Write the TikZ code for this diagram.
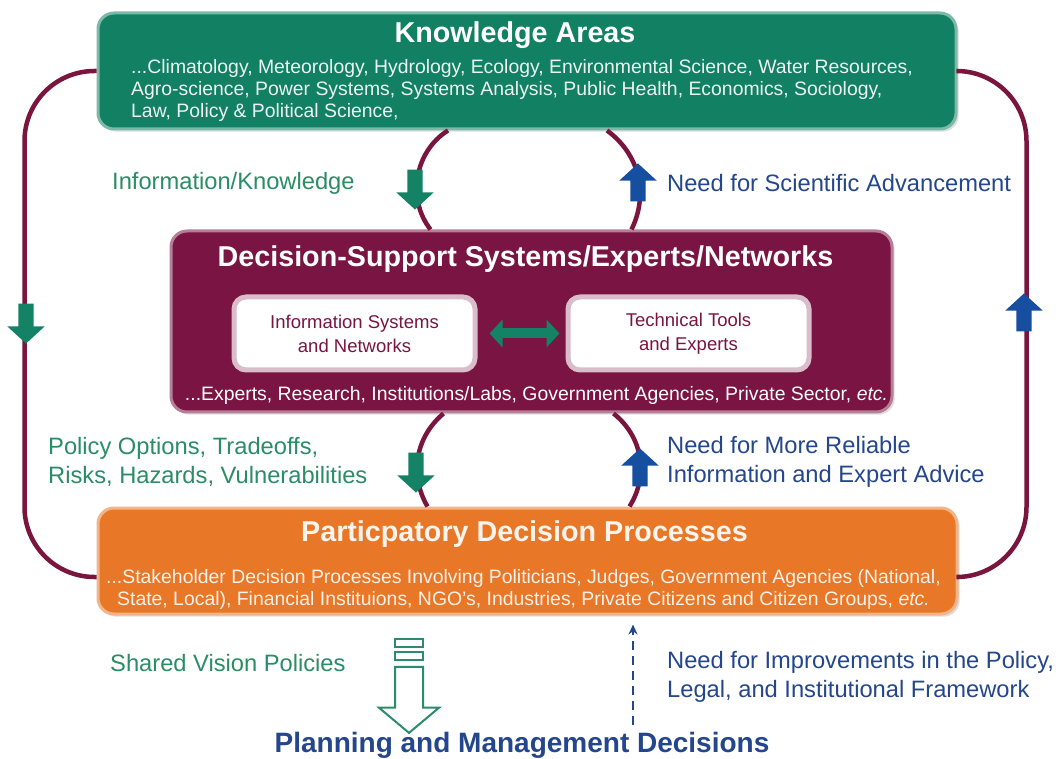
\documentclass[tikz,border=0pt]{standalone}
\usepackage{fontspec}
\setmainfont{Liberation Sans}
\usepackage{xcolor}
\usetikzlibrary{shapes.arrows, arrows.meta, positioning, calc, shadows}
\definecolor{kagreen}{RGB}{18, 128, 98}
\definecolor{dssred}{RGB}{122, 20, 66}
\definecolor{pdporange}{RGB}{232, 120, 40}
\definecolor{loopred}{RGB}{122, 22, 62}
\definecolor{txtgreen}{RGB}{42, 140, 104}
\definecolor{txtblue}{RGB}{36, 70, 140}
\definecolor{markgreen}{RGB}{20, 130, 100}
\definecolor{markblue}{RGB}{22, 78, 160}
\tikzstyle{areabox} = [rectangle, rounded corners=16pt, minimum width=858pt, minimum height=116pt, draw=kagreen!55, line width=3pt, fill=kagreen, drop shadow={opacity=0.25}]
\tikzstyle{dssbox} = [rectangle, rounded corners=16pt, minimum width=721pt, minimum height=181pt, draw=dssred!55, line width=3pt, fill=dssred, drop shadow={opacity=0.25}]
\tikzstyle{pdpbox} = [rectangle, rounded corners=16pt, minimum width=859pt, minimum height=106pt, draw=pdporange!55, line width=3pt, fill=pdporange, drop shadow={opacity=0.25}]
\tikzstyle{innerbox} = [rectangle, rounded corners=12pt, minimum width=241pt, minimum height=73pt, draw=dssred!28, line width=5pt, fill=white, text=dssred, align=center, font=\fontsize{18.5}{24}\selectfont]
\tikzstyle{boxtitle} = [inner sep=0pt, text=white, font=\fontsize{28.7}{32}\selectfont\bfseries]
\tikzstyle{boxbody} = [inner sep=0pt, text=white!92!kagreen, align=left, font=\fontsize{19.4}{22}\selectfont]
\tikzstyle{greenlabel} = [inner sep=0pt, anchor=west, align=left, text=txtgreen, font=\fontsize{23.7}{29}\selectfont]
\tikzstyle{bluelabel} = [inner sep=0pt, anchor=west, align=left, text=txtblue, font=\fontsize{23.7}{29}\selectfont]
\tikzstyle{downmark} = [single arrow, draw=none, fill=markgreen, inner sep=7.5pt, single arrow head extend=11pt, single arrow tip angle=95, minimum height=40pt, shape border rotate=270]
\tikzstyle{upmark} = [single arrow, draw=none, fill=markblue, inner sep=7.5pt, single arrow head extend=11pt, single arrow tip angle=95, minimum height=38pt, shape border rotate=90]
\tikzstyle{svbar} = [rectangle, draw=txtgreen, line width=2pt, fill=white, minimum width=28pt, minimum height=8pt, inner sep=0pt]
\tikzstyle{openarrow} = [single arrow, draw=txtgreen, line width=2pt, fill=white, inner sep=13pt, single arrow head extend=16pt, single arrow tip angle=100, minimum height=66pt, shape border rotate=270]
\tikzstyle{loopline} = [draw=loopred, line width=4.5pt]
\tikzstyle{linkarrow} = [draw=markgreen, line width=10pt, {Triangle[width=27pt,length=13pt]}-{Triangle[width=27pt,length=13pt]}, shorten <=12pt, shorten >=6pt]
\tikzstyle{needline} = [draw=txtblue, line width=2pt, dash pattern=on 9pt off 6pt, -{Stealth[width=9pt,length=10pt]}]

\begin{document}
\begin{tikzpicture}[x=1pt, y=-1pt, node distance=3pt]
  \useasboundingbox[fill=white] (0,0) rectangle (1061,759);

  % the three layers
  \node[areabox] (ka) at (527,71) {};
  \node[boxtitle] (katitle) at ([xshift=-12pt,yshift=-24pt]ka.north) {Knowledge Areas};
  \node[boxbody, anchor=west] (kabody) at (131,90) {...Climatology, Meteorology, Hydrology, Ecology, Environmental Science, Water Resources,\\Agro-science, Power Systems, Systems Analysis, Public Health, Economics, Sociology,\\Law, Policy \& Political Science,};

  \node[dssbox] (dss) at (531.5,321.5) {};
  \node[boxtitle] (dsstitle) at ([xshift=-6pt,yshift=-30pt]dss.north) {Decision-Support Systems/Experts/Networks};
  \node[innerbox] (isn) at ([xshift=-177pt,yshift=-12pt]dss.center) {Information Systems\\and Networks};
  \node[innerbox] (tte) at ([xshift=157pt,yshift=-12pt]dss.center) {Technical Tools\\and Experts};
  \node[boxbody, text=white] (dssbody) at ([xshift=5pt,yshift=18pt]dss.south) {...Experts, Research, Institutions/Labs, Government Agencies, Private Sector, \textit{etc.}};

  \node[pdpbox] (pdp) at (527.5,561) {};
  \node[boxtitle, text=white!92!pdporange] (pdptitle) at ([xshift=-3pt,yshift=-28pt]pdp.north) {Particpatory Decision Processes};
  \node[boxbody, align=center, text=white!90!pdporange] (pdpbody) at ([xshift=-4pt,yshift=26pt]pdp.south) {...Stakeholder Decision Processes Involving Politicians, Judges, Government Agencies (National,\\State, Local), Financial Instituions, NGO's, Industries, Private Citizens and Citizen Groups, \textit{etc.}};

  % loops
  \draw[loopline, rounded corners=70pt] (ka.west) -| ([xshift=-72pt,yshift=-16pt]pdp.west) -- ([yshift=-16pt]pdp.west);
  \draw[loopline, rounded corners=70pt] (ka.east) -| ([xshift=68pt,yshift=-16pt]pdp.east) -- ([yshift=-16pt]pdp.east);
  \draw[loopline] ([xshift=-79pt]ka.south) to[bend right=48] ([xshift=-101pt]dss.north);
  \draw[loopline] ([xshift=80pt]ka.south) to[bend left=40] ([xshift=100pt]dss.north);
  \draw[loopline] ([xshift=-88pt]dss.south) to[bend right=40] ([xshift=-100pt]pdp.north);
  \draw[loopline] ([xshift=82pt]dss.south) to[bend left=42] ([xshift=102pt]pdp.north);
  \draw[linkarrow] (isn) -- (tte);

  \node[downmark] (gm1) at (415,186) {};
  \node[upmark] (bm1) at (638,186) {};
  \node[downmark] (gm2) at (416,469) {};
  \node[upmark] (bm2) at (640,471) {};
  \node[downmark] (gm3) at (26,320) {};
  \node[upmark] (bm3) at (1024,316) {};

  % labels
  \node[greenlabel] (infok) at (112,183) {Information/Knowledge};
  \node[bluelabel] (needsci) at (667,183) {Need for Scientific Advancement};
  \node[greenlabel] (risks) at (48,462) {Policy Options, Tradeoffs,\\Risks, Hazards, Vulnerabilities};
  \node[bluelabel] (needinfo) at (667,462) {Need for More Reliable\\Information and Expert Advice};

  % outcome
  \node[svbar] (bar1) at (409,643) {};
  \node[svbar, below=of bar1] (bar2) {};
  \node[openarrow] (sva) at (409,694) {};
  \node[greenlabel] (svp) at (110,663) {Shared Vision Policies};
  \node[bluelabel] (needframe) at (667,677) {Need for Improvements in the Policy,\\Legal, and Institutional Framework};
  \node[inner sep=0pt, text=txtblue, font=\fontsize{28}{32}\selectfont\bfseries] (pmd) at (522,745) {Planning and Management Decisions};
  \draw[needline] ([xshift=111pt,yshift=7pt]pmd.north) -- ([xshift=105.5pt,yshift=-9pt]pdp.south);
\end{tikzpicture}
\end{document}
